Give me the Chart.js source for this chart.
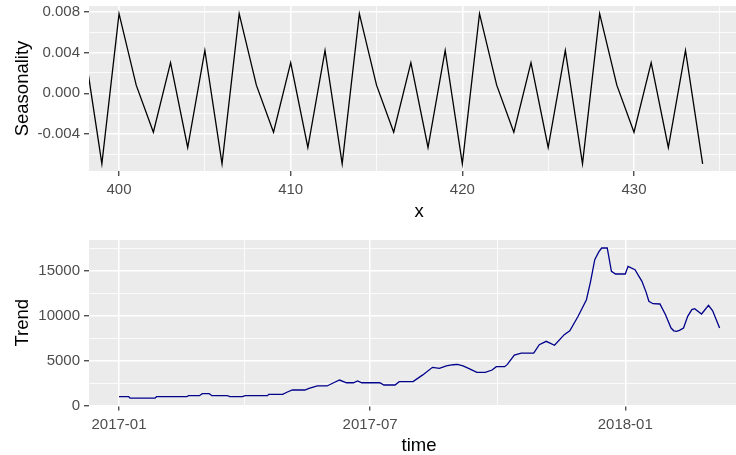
<!DOCTYPE html>
<html>
<head>
<meta charset="utf-8">
<script src="https://cdn.jsdelivr.net/npm/chart.js@4/dist/chart.umd.min.js"></script>
<style>
  html, body { margin: 0; padding: 0; background: #fff; overflow: hidden; }
  #wrap { position: relative; width: 736px; height: 455px; overflow: hidden; }
  canvas { position: absolute; left: 0; }
</style>
</head>
<body>
<div id="wrap">
  <canvas id="seasonChart" width="750" height="225" style="top:0"></canvas>
  <canvas id="trendChart" width="750" height="230" style="top:225px"></canvas>
</div>
<script>
// top panel: seasonal component
const seasonX = [398, 399, 400, 401, 402, 403, 404, 405, 406, 407, 408, 409, 410, 411, 412, 413, 414, 415, 416,
  417, 418, 419, 420, 421, 422, 423, 424, 425, 426, 427, 428, 429, 430, 431, 432, 433, 434];
const seasonValues = [0.0042, -0.0069, 0.0078, 0.0008, -0.0038, 0.0030, -0.0053, 0.0042, -0.0069, 0.0078,
  0.0008, -0.0038, 0.0030, -0.0053, 0.0042, -0.0069, 0.0078, 0.0008, -0.0038, 0.0030, -0.0053, 0.0042,
  -0.0069, 0.0078, 0.0008, -0.0038, 0.0030, -0.0053, 0.0042, -0.0069, 0.0078, 0.0008, -0.0038, 0.0030,
  -0.0053, 0.0042, -0.0069];
const seasonXTicks = [400, 410, 420, 430];
const seasonXMinor = [405, 415, 425, 435];
const seasonYTicks = [-0.004, 0, 0.004, 0.008];
const seasonYMinor = [-0.006, -0.002, 0.002, 0.006];

// bottom panel: trend, x = days since 2017-01-01
const trendDays = [0, 7, 8, 26, 27, 49, 50, 58, 60, 65, 67, 78, 80, 89, 91, 107, 108, 118, 121, 125, 134, 137,
  143, 150, 154, 159, 164, 169, 172, 175, 188, 191, 199, 202, 212, 219, 226, 231, 236, 241, 244, 248, 252,
  258, 264, 269, 272, 278, 280, 285, 290, 299, 303, 308, 314, 321, 325, 331, 337, 340, 343, 346, 348, 352,
  355, 358, 365, 367, 372, 377, 380, 382, 385, 390, 394, 398, 400, 402, 404, 407, 410, 413, 415, 420, 425,
  428, 433];
const trendValues = [980, 980, 820, 820, 980, 980, 1090, 1090, 1310, 1310, 1090, 1090, 980, 980, 1090, 1090,
  1240, 1240, 1470, 1720, 1720, 1910, 2170, 2170, 2470, 2830, 2530, 2530, 2720, 2530, 2530, 2280, 2280,
  2650, 2650, 3400, 4240, 4130, 4400, 4530, 4560, 4400, 4130, 3690, 3690, 3940, 4310, 4310, 4570, 5610,
  5830, 5830, 6760, 7130, 6690, 7870, 8310, 9910, 11760, 13800, 16200, 17100, 17500, 17500, 14910, 14610,
  14610, 15460, 15090, 13800, 12600, 11580, 11310, 11280, 10090, 8610, 8300, 8240, 8350, 8610, 9900, 10650,
  10760, 10170, 11130, 10530, 8610];
const timeTicks = [0, 181, 365];
const timeLabels = ['2017-01', '2017-07', '2018-01'];
const timeMinor = [90.5, 273];
const trendYTicks = [0, 5000, 10000, 15000];
const trendYMinor = [2500, 7500, 12500, 17500];

const FONT = '"Liberation Sans", Arial, sans-serif';

const panelBg = {
  id: 'panelBg',
  beforeDraw(chart) {
    const { ctx, chartArea: a } = chart;
    ctx.save();
    ctx.fillStyle = '#EBEBEB';
    ctx.fillRect(a.left, a.top, a.right - a.left, a.bottom - a.top);
    ctx.restore();
  },
};

function gridFor(majors) {
  const isMajor = (c) => c.tick && majors.includes(c.tick.value);
  return {
    color: '#FFFFFF',
    lineWidth: (c) => (isMajor(c) ? 1.5 : 0.8),
    tickLength: 5,
    tickWidth: 1.2,
    tickColor: (c) => (isMajor(c) ? '#333333' : 'rgba(0,0,0,0)'),
  };
}

function tickList(majors, minors) {
  return majors.concat(minors).sort((a, b) => a - b).map((v) => ({ value: v }));
}

const tickFont = { family: FONT, size: 15 };
const titleFont = { family: FONT, size: 18.5, lineHeight: 1 };

new Chart(document.getElementById('seasonChart'), {
  type: 'line',
  data: {
    datasets: [
      {
        data: seasonX.map((x, i) => ({ x: x, y: seasonValues[i] })),
        borderColor: '#000000',
        borderWidth: 1.3,
        pointRadius: 0,
        tension: 0,
      },
    ],
  },
  options: {
    responsive: false,
    animation: false,
    devicePixelRatio: 1,
    layout: { padding: { top: 6, left: 0, right: 1, bottom: 0 } },
    plugins: { legend: { display: false }, tooltip: { enabled: false } },
    scales: {
      x: {
        type: 'linear',
        min: 398.25,
        max: 436.7,
        border: { display: false },
        grid: gridFor(seasonXTicks),
        afterBuildTicks: (s) => { s.ticks = tickList(seasonXTicks, seasonXMinor); },
        afterFit: (s) => { s.height = 54; s.paddingLeft = 0; s.paddingRight = 0; },
        ticks: {
          autoSkip: false,
          maxRotation: 0,
          padding: 5,
          color: '#4D4D4D',
          font: tickFont,
          callback: (v) => (seasonXTicks.includes(v) ? String(v) : ''),
        },
        title: { display: true, text: 'x', color: '#000000', font: titleFont, padding: { top: 0, bottom: 4 } },
      },
      y: {
        min: -0.0076,
        max: 0.00855,
        border: { display: false },
        grid: gridFor(seasonYTicks),
        afterBuildTicks: (s) => { s.ticks = tickList(seasonYTicks, seasonYMinor); },
        afterFit: (s) => { s.width = 89; s.paddingTop = 0; s.paddingBottom = 0; },
        ticks: {
          autoSkip: false,
          padding: 4,
          color: '#4D4D4D',
          font: tickFont,
          callback: (v) => (seasonYTicks.includes(v) ? v.toFixed(3) : ''),
        },
        title: { display: true, text: 'Seasonality', color: '#000000', font: titleFont, padding: { top: 14, bottom: 0 } },
      },
    },
  },
  plugins: [panelBg],
});

new Chart(document.getElementById('trendChart'), {
  type: 'line',
  data: {
    datasets: [
      {
        data: trendDays.map((d, i) => ({ x: d, y: trendValues[i] })),
        borderColor: '#00008B',
        borderWidth: 1.3,
        pointRadius: 0,
        tension: 0,
      },
    ],
  },
  options: {
    responsive: false,
    animation: false,
    devicePixelRatio: 1,
    layout: { padding: { top: 15, left: 0, right: 1, bottom: 0 } },
    plugins: { legend: { display: false }, tooltip: { enabled: false } },
    scales: {
      x: {
        type: 'linear',
        min: -21.64,
        max: 454.2,
        border: { display: false },
        grid: gridFor(timeTicks),
        afterBuildTicks: (s) => { s.ticks = tickList(timeTicks, timeMinor); },
        afterFit: (s) => { s.height = 49.5; s.paddingLeft = 0; s.paddingRight = 0; },
        ticks: {
          autoSkip: false,
          maxRotation: 0,
          padding: 5,
          color: '#4D4D4D',
          font: tickFont,
          callback: (v) => {
            const i = timeTicks.indexOf(v);
            return i >= 0 ? timeLabels[i] : '';
          },
        },
        title: { display: true, text: 'time', color: '#000000', font: titleFont, padding: { top: 0, bottom: 0 } },
      },
      y: {
        min: 0,
        max: 18390,
        border: { display: false },
        grid: gridFor(trendYTicks),
        afterBuildTicks: (s) => { s.ticks = tickList(trendYTicks, trendYMinor); },
        afterFit: (s) => { s.width = 89; s.paddingTop = 0; s.paddingBottom = 0; },
        ticks: {
          autoSkip: false,
          padding: 4,
          color: '#4D4D4D',
          font: tickFont,
          callback: (v) => (trendYTicks.includes(v) ? String(v) : ''),
        },
        title: { display: true, text: 'Trend', color: '#000000', font: titleFont, padding: { top: 14, bottom: 0 } },
      },
    },
  },
  plugins: [panelBg],
});
</script>
</body>
</html>
